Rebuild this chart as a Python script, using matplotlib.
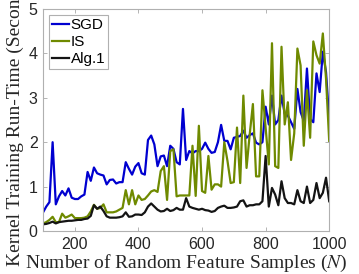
import numpy as np
import matplotlib
matplotlib.use('Agg')
from matplotlib import pyplot as plt

# number of random feature samples
N = np.arange(100, 1001, 10)

sgd = [0.42, 0.55, 0.65, 2.0, 0.6, 0.78, 0.9, 0.8, 0.96, 0.75,
       0.72, 0.72, 0.78, 0.82, 1.33, 1.13, 1.43, 1.3, 1.27, 1.25,
       1.05, 1.15, 1.16, 1.07, 1.1, 1.1, 1.55, 1.4, 1.27, 1.45,
       1.53, 1.3, 1.27, 2.05, 2.15, 1.95, 1.46, 1.68, 1.7, 1.46,
       1.92, 1.85, 1.55, 1.5, 2.75, 1.6, 1.8, 1.75, 1.8, 1.8,
       1.85, 1.99, 1.85, 1.76, 1.78, 2.0, 2.39, 2.03, 2.03, 1.84,
       2.1, 2.12, 2.14, 2.26, 2.1, 2.16, 2.2, 1.99, 1.95, 2.0,
       2.8, 2.4, 3.05, 2.4, 2.5, 3.05, 2.64, 2.6, 2.45, 2.3,
       3.2, 2.68, 2.48, 3.66, 2.52, 2.45, 3.55, 3.13, 4.04, 3.58,
       2.52]

imp = [0.17, 0.2, 0.25, 0.32, 0.2, 0.2, 0.39, 0.3, 0.33, 0.37,
       0.29, 0.29, 0.29, 0.3, 0.33, 0.44, 0.59, 0.5, 0.52, 0.6,
       0.42, 0.42, 0.42, 0.44, 0.48, 0.52, 0.92, 0.6, 0.92, 0.6,
       0.8, 0.7, 0.72, 0.8, 0.89, 0.92, 0.88, 1.35, 1.46, 0.7,
       1.8, 1.84, 0.78, 0.8, 0.8, 0.8, 0.8, 1.92, 0.79, 2.37,
       0.9, 0.86, 1.69, 0.93, 1.05, 1.05, 1.0, 2.0, 1.58, 1.08,
       1.1, 2.33, 1.08, 3.05, 1.42, 2.18, 2.86, 1.23, 1.23, 3.17,
       2.33, 1.5, 4.23, 1.46, 1.42, 4.15, 2.4, 2.9, 1.6, 2.2,
       4.11, 3.73, 1.92, 3.17, 2.1, 4.27, 3.96, 3.77, 4.45, 3.43,
       2.03]

alg1 = [0.15, 0.16, 0.18, 0.21, 0.17, 0.2, 0.21, 0.22, 0.23, 0.23,
        0.24, 0.25, 0.25, 0.27, 0.28, 0.34, 0.58, 0.5, 0.55, 0.45,
        0.33, 0.3, 0.3, 0.3, 0.31, 0.33, 0.42, 0.32, 0.33, 0.37,
        0.37, 0.36, 0.42, 0.55, 0.62, 0.55, 0.48, 0.44, 0.45, 0.5,
        0.45, 0.47, 0.52, 0.48, 0.48, 0.74, 0.55, 0.52, 0.5, 0.48,
        0.5, 0.47, 0.46, 0.43, 0.45, 0.52, 0.55, 0.57, 0.52, 0.52,
        0.53, 0.55, 0.67, 0.69, 0.55, 0.58, 0.58, 0.6, 0.6, 0.67,
        1.69, 0.55, 0.97, 0.82, 0.58, 1.12, 0.74, 0.63, 0.63, 0.6,
        0.92, 0.67, 0.63, 1.0, 0.63, 0.7, 1.08, 0.74, 0.86, 1.2,
        0.67]

xticks = [200, 400, 600, 800, 1000]
yticks = [0, 1, 2, 3, 4, 5]

plt.rcParams['font.family'] = ['Liberation Sans', 'DejaVu Sans']
plt.rcParams['mathtext.fontset'] = 'stix'

fig = plt.figure(figsize=(3.59, 2.74), dpi=100)
ax = fig.add_axes([0.120, 0.157, 0.797, 0.810])

ax.plot(N, sgd, color='#0000d0', lw=1.6, label='SGD')
ax.plot(N, imp, color='#6f8a00', lw=1.6, label='IS')
ax.plot(N, alg1, color='#141414', lw=1.6, label='Alg.1')

ax.set_xlim(100, 1000)
ax.set_ylim(0, 5)
ax.set_xticks(xticks)
ax.set_yticks(yticks)
ax.tick_params(direction='in', length=3, width=0.6, color='#a8a8a8',
               labelsize=11.5, labelcolor='#262626', top=True, right=True, pad=4)
for s in ax.spines.values():
    s.set_color('#b0b0b0')
    s.set_linewidth(0.8)

# labels are wider than the axes in the original, the y label runs off the top
ax.set_xlabel('Number of Random Feature Samples ($N$)', family='Liberation Serif',
              fontsize=14, color='#262626', labelpad=1)
ax.set_ylabel('Kernel Training Run-Time (Seconds)', family='Liberation Serif',
              fontsize=14, color='#262626', labelpad=3)

leg = ax.legend(loc='upper left', fontsize=11, handlelength=1.1, handletextpad=0.1,
                borderpad=0.2, labelspacing=0.2, fancybox=False,
                borderaxespad=0.4, framealpha=1)
leg.get_frame().set_edgecolor('#b0b0b0')
leg.get_frame().set_linewidth(0.8)

fig.savefig('out.png', dpi=100)
